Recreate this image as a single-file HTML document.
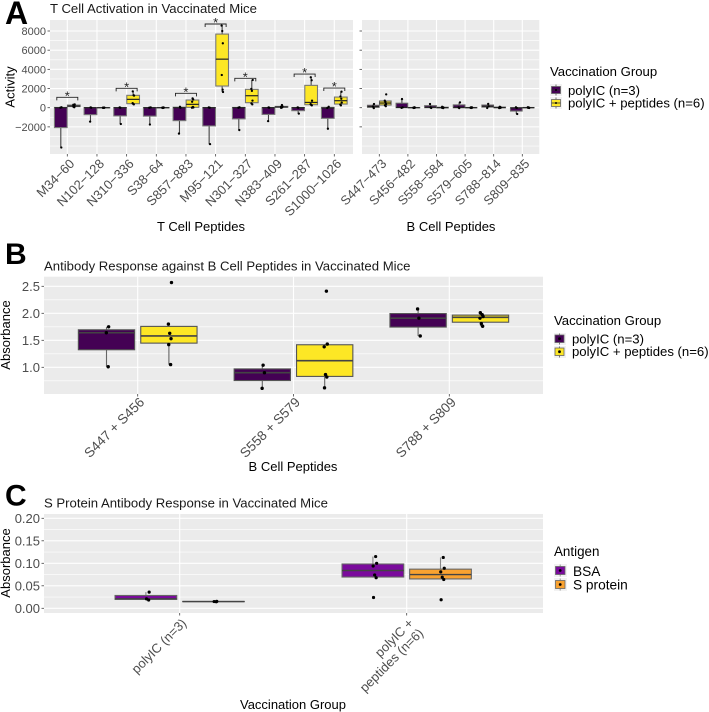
<!DOCTYPE html>
<html lang="en">
<head>
<meta charset="utf-8">
<title>Vaccinated Mice Response Charts</title>
<style>
html,body{margin:0;padding:0;background:#fff;}
svg{display:block;font-family:"Liberation Sans",Arial,sans-serif;}
</style>
</head>
<body>
<svg id="figure" xmlns="http://www.w3.org/2000/svg" width="709" height="712" viewBox="0 0 709 712">
  <rect x="0" y="0" width="709" height="712" fill="#fff"/>

  <text x="5" y="24" font-size="32" font-weight="bold" fill="#000">A</text>
  <text x="5" y="264" font-size="30" font-weight="bold" fill="#000">B</text>
  <text x="5" y="505.5" font-size="30" font-weight="bold" fill="#000">C</text>

  <text x="50" y="13" font-size="13.15" fill="#1a1a1a">T Cell Activation in Vaccinated Mice</text>
  <text x="44" y="270.5" font-size="13.15" fill="#1a1a1a">Antibody Response against B Cell Peptides in Vaccinated Mice</text>
  <text x="44" y="507.5" font-size="13.15" fill="#1a1a1a">S Protein Antibody Response in Vaccinated Mice</text>

  <text transform="translate(14.5,87) rotate(-90)" text-anchor="middle" font-size="13" fill="#000">Activity</text>
  <text x="201" y="231" text-anchor="middle" font-size="13" fill="#000">T Cell Peptides</text>
  <text x="451" y="231" text-anchor="middle" font-size="13" fill="#000">B Cell Peptides</text>
  <text transform="translate(10,335) rotate(-90)" text-anchor="middle" font-size="13" fill="#000">Absorbance</text>
  <text x="293" y="471" text-anchor="middle" font-size="13" fill="#000">B Cell Peptides</text>
  <text transform="translate(10,563) rotate(-90)" text-anchor="middle" font-size="13" fill="#000">Absorbance</text>
  <text x="293" y="709" text-anchor="middle" font-size="13" fill="#000">Vaccination Group</text>

  <g id="marks"></g>

  <g>
    <text x="550" y="76" font-size="13.15" fill="#000">Vaccination Group</text>
    <g>
      <rect x="550" y="84" width="12" height="12" fill="#f2f2f2"/>
      <line x1="556" x2="556" y1="84.5" y2="95.5" stroke="#777" stroke-width="1"/>
      <rect x="551.5" y="86.5" width="9" height="7" fill="#440154" stroke="#666" stroke-width="0.8"/>
      <line x1="551.5" x2="560.5" y1="90" y2="90" stroke="#333" stroke-width="0.8"/>
      <circle cx="556" cy="90" r="1" fill="#000"/>
      <text x="568" y="95" font-size="13.15" fill="#000">polyIC (n=3)</text>
    </g>
    <g>
      <rect x="550" y="97" width="12" height="12" fill="#f2f2f2"/>
      <line x1="556" x2="556" y1="97.5" y2="108.5" stroke="#777" stroke-width="1"/>
      <rect x="551.5" y="99.5" width="9" height="7" fill="#FDE725" stroke="#666" stroke-width="0.8"/>
      <line x1="551.5" x2="560.5" y1="103" y2="103" stroke="#333" stroke-width="0.8"/>
      <circle cx="556" cy="103" r="1" fill="#000"/>
      <text x="568" y="107.5" font-size="13.15" fill="#000">polyIC + peptides (n=6)</text>
    </g>
  </g>

  <g>
    <text x="554" y="325" font-size="13.15" fill="#000">Vaccination Group</text>
    <g>
      <rect x="554" y="333" width="12" height="12" fill="#f2f2f2"/>
      <line x1="559.5" x2="559.5" y1="333.5" y2="344.5" stroke="#777" stroke-width="1"/>
      <rect x="555" y="335" width="9" height="7.5" fill="#440154" stroke="#666" stroke-width="0.8"/>
      <circle cx="559.5" cy="338.7" r="1.4" fill="#000"/>
      <text x="572" y="343.7" font-size="13.15" fill="#000">polyIC (n=3)</text>
    </g>
    <g>
      <rect x="554" y="346" width="12" height="12" fill="#f2f2f2"/>
      <line x1="559.5" x2="559.5" y1="346.5" y2="357.5" stroke="#777" stroke-width="1"/>
      <rect x="555" y="348" width="9" height="7.5" fill="#FDE725" stroke="#666" stroke-width="0.8"/>
      <circle cx="559.5" cy="351.7" r="1.4" fill="#000"/>
      <text x="572" y="356" font-size="13.15" fill="#000">polyIC + peptides (n=6)</text>
    </g>
  </g>

  <g>
    <text x="554" y="556" font-size="13.4" fill="#000">Antigen</text>
    <g>
      <rect x="554" y="564" width="13" height="13" fill="#f2f2f2"/>
      <line x1="560.2" x2="560.2" y1="564.5" y2="576.5" stroke="#999" stroke-width="1"/>
      <rect x="555.5" y="566.5" width="9.5" height="8" fill="#7A0A9C" stroke="#666" stroke-width="0.8"/>
      <circle cx="560.2" cy="570.5" r="1.4" fill="#000"/>
      <text x="573" y="576" font-size="13.7" fill="#000">BSA</text>
    </g>
    <g>
      <rect x="554" y="578" width="13" height="13" fill="#f2f2f2"/>
      <line x1="560.2" x2="560.2" y1="578.5" y2="590.5" stroke="#999" stroke-width="1"/>
      <rect x="555.5" y="580.5" width="9.5" height="8" fill="#F9A230" stroke="#666" stroke-width="0.8"/>
      <circle cx="560.2" cy="584.5" r="1.4" fill="#000"/>
      <text x="573" y="589.5" font-size="13.7" fill="#000">S protein</text>
    </g>
  </g>
</svg>

<script>
// ---- Chart A data ----
const tCellCategories = ['M34−60','N102−128','N310−336','S38−64','S857−883','M95−121','N301−327','N383−409','S261−287','S1000−1026'];
const bCellCategories = ['S447−473','S456−482','S558−584','S579−605','S788−814','S809−835'];
const tCellPolyIC = [
  [-4150,0,50],[-1450,0,30],[-1700,0,30],[-1750,0,30],[-2700,0,100],
  [-3800,0,30],[-2330,0,50],[-1400,0,30],[-620,0,30],[-2190,-30,100]
];
const tCellPeptides = [
  [50,100,150,200,300,350],[-20,-10,0,0,10,20],[350,400,480,1260,1300,1700],[-30,-15,0,0,15,30],[0,20,80,620,860,970],
  [1640,1877,3410,6716,8000,8560],[350,450,740,1760,1965,2890],[-20,40,60,90,150,280],[240,290,370,730,2863,3170],[240,330,530,930,1170,1670]
];
const bCellPolyIC = [[-40,120,380],[-20,30,900],[-30,40,380],[-40,30,550],[-30,150,400],[-660,-30,40]];
const bCellPeptides = [
  [150,250,370,600,730,1390],[-30,-15,0,10,20,40],[-40,-20,0,20,50,100],
  [-30,-15,0,10,25,40],[-40,-10,10,30,60,100],[-30,-10,0,10,25,40]
];
const significanceLevels = [1080,null,2020,null,1500,8730,3060,null,3510,2050];
const activityTickValues = [-2000,0,2000,4000,6000,8000];
const activityTickLabels = ['−2000','0','2000','4000','6000','8000'];
const activityMinorGrid = [-4000,-3000,-1000,1000,3000,5000,7000];

// ---- Chart B data ----
const pairCategories = ['S447 + S456','S558 + S579','S788 + S809'];
const pairPolyIC = [[1.01,1.64,1.75],[0.61,0.90,1.04],[1.58,1.91,2.08]];
const pairPeptides = [
  [1.05,1.42,1.53,1.63,1.80,2.57],
  [0.62,0.82,0.865,1.38,1.43,2.41],
  [1.76,1.81,1.91,1.94,1.975,2.01]
];
const pairTickValues = [1.0,1.5,2.0,2.5];
const pairTickLabels = ['1.0','1.5','2.0','2.5'];
const pairMinorGrid = [0.75,1.25,1.75,2.25];

// ---- Chart C data ----
const groupCategories = [['polyIC (n=3)'],['polyIC +','peptides (n=6)']];
const groupBSA = [[0.0185,0.021,0.036],[0.024,0.068,0.074,0.094,0.10,0.115]];
const groupSProtein = [[0.0145,0.015,0.0155],[0.019,0.064,0.069,0.081,0.089,0.113]];
const groupTickValues = [0,0.05,0.10,0.15,0.20];
const groupTickLabels = ['0.00','0.05','0.10','0.15','0.20'];
const groupMinorGrid = [0.025,0.075,0.125,0.175];

// ---- Drawing helpers ----
const NS = 'http://www.w3.org/2000/svg';
const root = document.getElementById('marks');
function shape(tag, props, parent) {
  const el = document.createElementNS(NS, tag);
  for (const k in props) el.setAttribute(k, props[k]);
  (parent || root).appendChild(el);
  return el;
}
function linear(d0, d1, r0, r1) {
  return v => r0 + (v - d0) * (r1 - r0) / (d1 - d0);
}
function quantile(sorted, p) {
  const h = (sorted.length - 1) * p;
  const lo = Math.floor(h);
  const hi = Math.min(lo + 1, sorted.length - 1);
  return sorted[lo] + (h - lo) * (sorted[hi] - sorted[lo]);
}
function boxStats(values) {
  const s = values.slice().sort((a, b) => a - b);
  const q1 = quantile(s, 0.25), med = quantile(s, 0.5), q3 = quantile(s, 0.75);
  const iqr = q3 - q1;
  const inside = s.filter(v => v >= q1 - 1.5 * iqr && v <= q3 + 1.5 * iqr);
  return {q1, med, q3, low: inside[0], high: inside[inside.length - 1]};
}
const jitterCycle = [0.5, -0.35, 0.7, 0.1, -0.5, 0.9];

function drawPanel(cfg) {
  const g = shape('g', {});
  
  
  const bg = shape('rect', {x: cfg.x0, y: cfg.top, width: cfg.x1 - cfg.x0, height: cfg.bottom - cfg.top, fill: '#EBEBEB'}, g);
  
  
  cfg.minor.forEach(v => {
    const ln = shape('line', {x1: cfg.x0, x2: cfg.x1, y1: cfg.y(v), y2: cfg.y(v), stroke: '#fff', 'stroke-width': 0.6}, g);
    
    
  });
  cfg.ticks.forEach((v, i) => {
    const yy = cfg.y(v);
    const ln = shape('line', {x1: cfg.x0, x2: cfg.x1, y1: yy, y2: yy, stroke: '#fff', 'stroke-width': 1.1}, g);
    
    
    const tk = shape('line', {x1: cfg.x0 - 2.5, x2: cfg.x0, y1: yy, y2: yy, stroke: '#444', 'stroke-width': 0.8}, g);
    
    
    if (cfg.tickLabels) {
      const t = shape('text', {x: cfg.x0 - 4, y: yy + cfg.tickSize * 0.36, 'text-anchor': 'end', 'font-size': cfg.tickSize, fill: '#4D4D4D'}, g);
      t.textContent = cfg.tickLabels[i];
      
      
    }
  });
  cfg.categories.forEach((c, i) => {
    const cx = cfg.xc(i);
    const ln = shape('line', {x1: cx, x2: cx, y1: cfg.top, y2: cfg.bottom, stroke: '#fff', 'stroke-width': 1.1}, g);
    
    
    const tk = shape('line', {x1: cx, x2: cx, y1: cfg.bottom, y2: cfg.bottom + 2.5, stroke: '#444', 'stroke-width': 0.8}, g);
    
    
    const lines = Array.isArray(c) ? c : [c];
    lines.forEach((txt, k) => {
      const bx = cx + cfg.labelDx + k * cfg.lineGap * 0.707;
      const by = cfg.bottom + cfg.labelDy + k * cfg.lineGap * 0.707;
      const t = shape('text', {transform: 'translate(' + bx + ',' + by + ') rotate(-45)', 'text-anchor': 'end', 'font-size': cfg.labelSize, fill: '#4D4D4D'}, g);
      t.textContent = txt;
      
      
    });
  });
  cfg.series.forEach(sr => {
    sr.values.forEach((vals, i) => {
      const st = boxStats(vals);
      const cx = cfg.xc(i) + sr.offset;
      const hw = cfg.boxWidth / 2;
      const wu = shape('line', {x1: cx, x2: cx, y1: cfg.y(st.q3), y2: cfg.y(st.high), stroke: cfg.whisker, 'stroke-width': 1.1}, g);
      
      
      const wl = shape('line', {x1: cx, x2: cx, y1: cfg.y(st.q1), y2: cfg.y(st.low), stroke: cfg.whisker, 'stroke-width': 1.1}, g);
      
      
      const box = shape('rect', {x: cx - hw, y: cfg.y(st.q3), width: cfg.boxWidth, height: Math.max(cfg.y(st.q1) - cfg.y(st.q3), 0.2), fill: sr.fill, stroke: cfg.boxStroke, 'stroke-width': 1.1}, g);
      
      
      const md = shape('line', {x1: cx - hw, x2: cx + hw, y1: cfg.y(st.med), y2: cfg.y(st.med), stroke: cfg.medianStroke, 'stroke-width': cfg.medianWidth}, g);
      
      
      vals.forEach((v, j) => {
        const dx = jitterCycle[(i + j) % jitterCycle.length] * cfg.jitter + cfg.jitterShift;
        const dot = shape('circle', {cx: cx + dx, cy: cfg.y(v), r: cfg.dot, fill: '#000'}, g);
        
        
      });
    });
  });
  return g;
}

// ---- Chart A ----
const yActivity = linear(0, 8000, 107.7, 31);
const xT = linear(0, 9, 67.3, 334.3);
const xB = linear(0, 5, 379.3, 522.3);
const PURPLE = '#440154', YELLOW = '#FDE725', BSA = '#7A0A9C', ORANGE = '#F9A230';

const tPanel = drawPanel({
  name: 'chart-a-t-cell-panel', x0: 50, x1: 353, top: 20, bottom: 154, y: yActivity, xc: xT,
  ticks: activityTickValues, tickLabels: activityTickLabels, minor: activityMinorGrid, tickSize: 11,
  categories: tCellCategories, labelDx: 8, labelDy: 10.5, labelSize: 13, lineGap: 0,
  boxWidth: 12.7, boxStroke: '#777', medianStroke: '#222', medianWidth: 1.2, whisker: '#444', jitter: 1, jitterShift: 0, dot: 1.15,
  series: [{values: tCellPolyIC, offset: -6.5, fill: PURPLE}, {values: tCellPeptides, offset: 6.5, fill: YELLOW}]
});
drawPanel({
  name: 'chart-a-b-cell-panel', x0: 362, x1: 539.3, top: 20, bottom: 154, y: yActivity, xc: xB,
  ticks: activityTickValues, tickLabels: null, minor: activityMinorGrid, tickSize: 11,
  categories: bCellCategories, labelDx: 8, labelDy: 10.5, labelSize: 12.8, lineGap: 0,
  boxWidth: 11.6, boxStroke: '#666', medianStroke: '#222', medianWidth: 1.2, whisker: '#444', jitter: 1, jitterShift: 0, dot: 1.15,
  series: [{values: bCellPolyIC, offset: -6, fill: PURPLE}, {values: bCellPeptides, offset: 6, fill: YELLOW}]
});

significanceLevels.forEach((level, i) => {
  if (level === null) return;
  const cx = xT(i), yy = yActivity(level);
  const br = shape('path', {d: 'M' + (cx - 10.5) + ' ' + (yy + 3) + 'V' + yy + 'H' + (cx + 10.5) + 'V' + (yy + 3), fill: 'none', stroke: '#222', 'stroke-width': 0.9}, tPanel);
  
  
  const st = shape('text', {x: cx, y: yy + 3, 'text-anchor': 'middle', 'font-size': 13, fill: '#222'}, tPanel);
  st.textContent = '*';
  
  
});

// ---- Chart B ----
drawPanel({
  name: 'chart-b-panel', x0: 44, x1: 543, top: 276.7, bottom: 394, y: linear(1, 2.5, 367.3, 286.3), xc: linear(0, 2, 137.7, 449.3),
  ticks: pairTickValues, tickLabels: pairTickLabels, minor: pairMinorGrid, tickSize: 13,
  categories: pairCategories, labelDx: 7.5, labelDy: 9, labelSize: 13.5, lineGap: 0,
  boxWidth: 56.3, boxStroke: '#555', medianStroke: '#444', medianWidth: 1.6, whisker: '#666', jitter: 2.2, jitterShift: 0.6, dot: 1.7,
  series: [{values: pairPolyIC, offset: -31.2, fill: PURPLE}, {values: pairPeptides, offset: 31.2, fill: YELLOW}]
});

// ---- Chart C ----
drawPanel({
  name: 'chart-c-panel', x0: 44, x1: 543, top: 514, bottom: 613, y: linear(0, 0.2, 608.3, 518.3), xc: linear(0, 1, 179.7, 406.7),
  ticks: groupTickValues, tickLabels: groupTickLabels, minor: groupMinorGrid, tickSize: 13,
  categories: groupCategories, labelDx: 7.5, labelDy: 11, labelSize: 13, lineGap: 14,
  boxWidth: 61.7, boxStroke: '#666', medianStroke: '#444', medianWidth: 1.4, whisker: '#888', jitter: 2.5, jitterShift: 1.5, dot: 1.6,
  series: [{values: groupBSA, offset: -33.8, fill: BSA}, {values: groupSProtein, offset: 33.8, fill: ORANGE}]
});
</script>
</body>
</html>
